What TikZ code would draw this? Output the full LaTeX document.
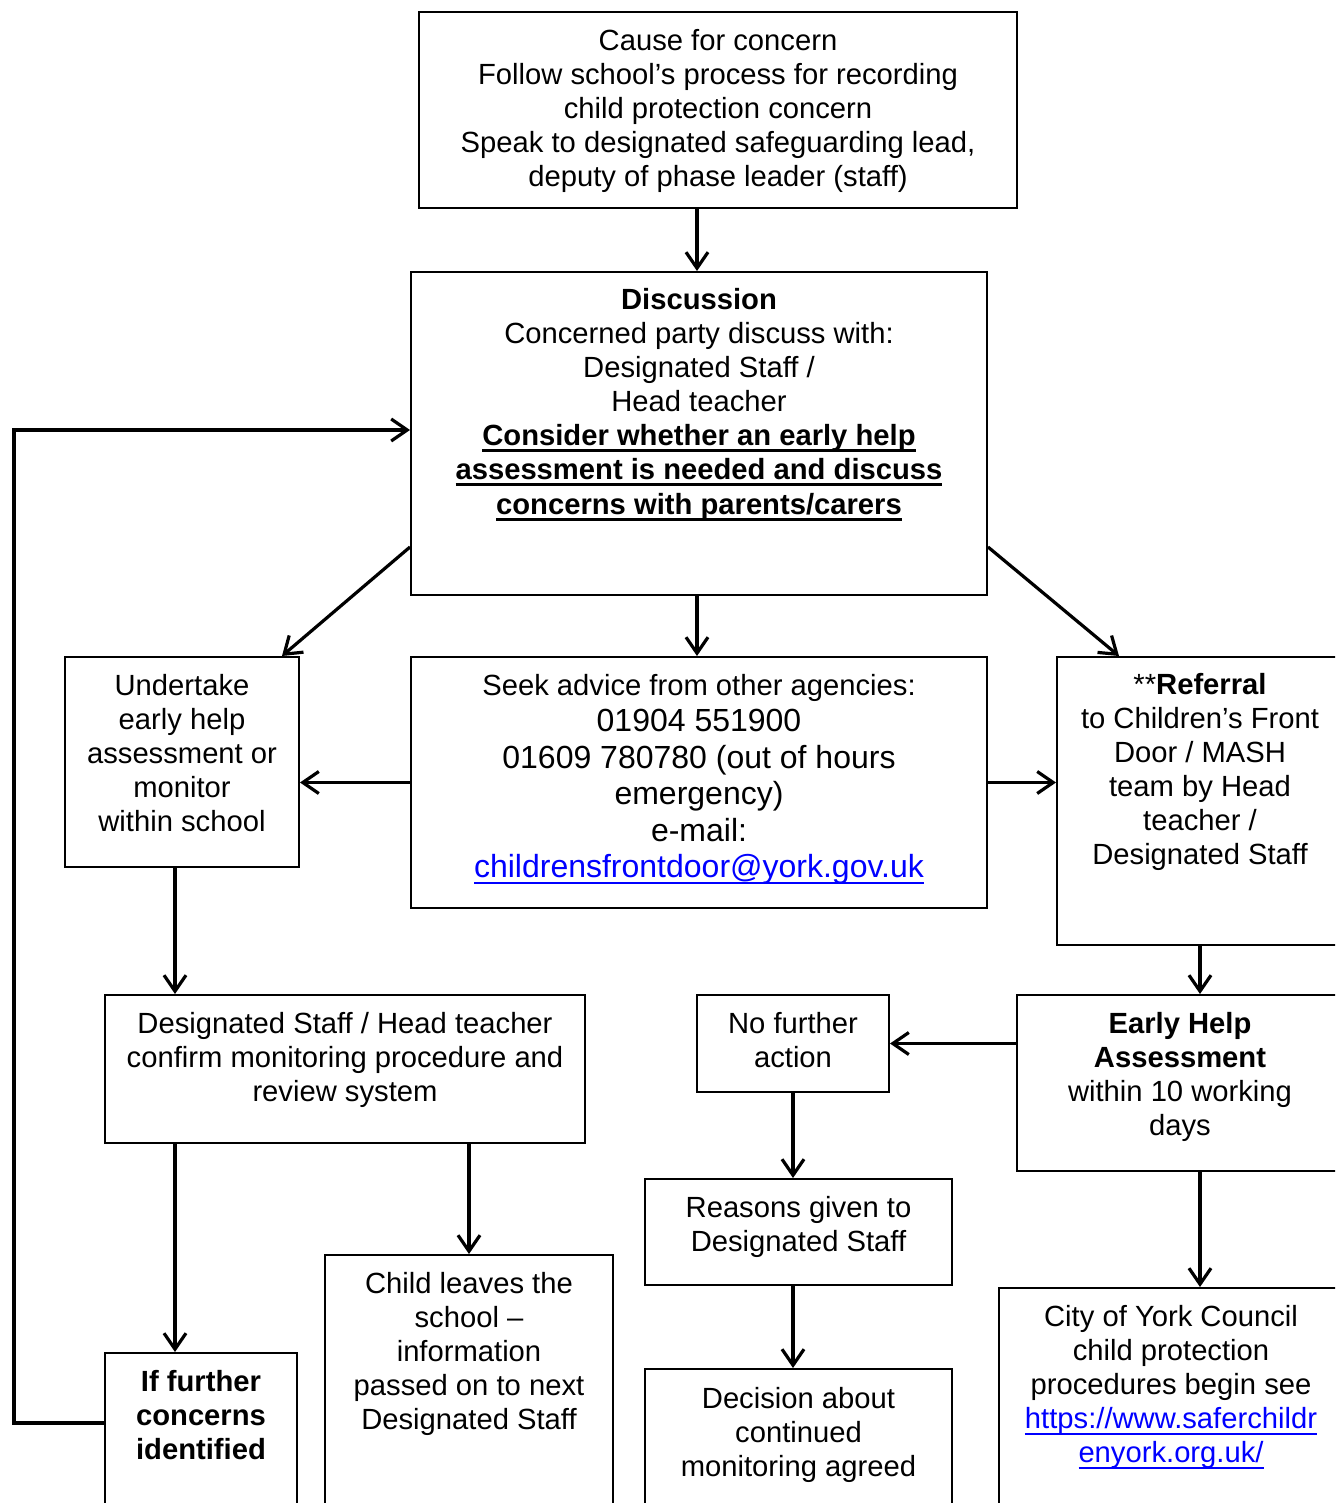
\documentclass[tikz,border=0pt]{standalone}
\usepackage{fontspec}
\setmainfont{Liberation Sans}
\usetikzlibrary{arrows.meta,fit,calc}
\newcommand\fsA{\fontsize{14.6}{17}\selectfont}
\newcommand\fsB{\fontsize{16}{18.2}\selectfont}
\definecolor{linkblue}{RGB}{0,0,255}
\newcommand\myul[2][1.2pt]{\setbox0\hbox{#2}\rlap{\raisebox{-3pt}{\rule{\wd0}{#1}}}\box0}
\newcommand\lnk[1]{\textcolor{linkblue}{\myul[0.8pt]{#1}}}
\begin{document}
\begin{tikzpicture}[x=0.5pt,y=-0.5pt,
  box/.style={draw, line width=1pt, inner sep=0pt},
  txt/.style={anchor=north, align=center, inner sep=0pt, font=\fsA},
  arr/.style={-{Straight Barb[length=8pt,width=11pt]}, line width=1.6pt}]
\useasboundingbox (0,0) rectangle (1335,1503);
\clip (0,0) rectangle (1335,1503);
% boxes
\node[box, fit={(419,12) (1017,208)}] (c1) {};
\node[box, fit={(411,272) (987,595)}] (disc) {};
\node[box, fit={(65,657) (299,867)}] (und) {};
\node[box, fit={(411,657) (987,908)}] (seek) {};
\node[box, fit={(1057,657) (1343,945)}] (ref) {};
\node[box, fit={(105,995) (585,1143)}] (dsc) {};
\node[box, fit={(697,995) (889,1092)}] (nfa) {};
\node[box, fit={(1017,995) (1343,1171)}] (eh) {};
\node[box, fit={(645,1179) (952,1285)}] (rea) {};
\node[box, fit={(325,1255) (613,1515)}] (child) {};
\node[box, fit={(105,1353) (297,1515)}] (iff) {};
\node[box, fit={(645,1369) (952,1515)}] (dec) {};
\node[box, fit={(999,1288) (1343,1515)}] (city) {};
% texts
\node[txt] (c1t) at ($(c1.north)+(0,18)$) {Cause for concern\\Follow school’s process for recording\\child protection concern\\Speak to designated safeguarding lead,\\deputy of phase leader (staff)};
\node[txt] (disct) at ($(disc.north)+(0,17)$) {\textbf{Discussion}\\Concerned party discuss with:\\Designated Staff /\\Head teacher\\\myul{\textbf{Consider whether an early help}}\\\myul{\textbf{assessment is needed and discuss}}\\[0.6pt]\myul{\textbf{concerns with parents/carers}}};
\node[txt] (undt) at ($(und.north)+(0,18)$) {Undertake\\early help\\assessment or\\monitor\\within school};
\node[txt, font=\fsB] (seekt) at ($(seek.north)+(0,18)$) {{\fsA Seek advice from other agencies:}\\01904 551900\\01609 780780 (out of hours\\emergency)\\e-mail:\\\lnk{childrensfrontdoor@york.gov.uk}};
\node[txt] (reft) at ($(ref.north)+(0,17)$) {**\textbf{Referral}\\to Children’s Front\\Door / MASH\\team by Head\\teacher /\\Designated Staff};
\node[txt] (dsct) at ($(dsc.north)+(0,18)$) {Designated Staff / Head teacher\\confirm monitoring procedure and\\review system};
\node[txt] (nfat) at ($(nfa.north)+(0,18)$) {No further\\action};
\node[txt] (eht) at ($(eh.north)+(0,18)$) {\textbf{Early Help}\\\textbf{Assessment}\\within 10 working\\days};
\node[txt] (reat) at ($(rea.north)+(0,18)$) {Reasons given to\\Designated Staff};
\node[txt] (childt) at ($(child.north)+(0,18)$) {Child leaves the\\school –\\information\\passed on to next\\Designated Staff};
\node[txt] (ifft) at ($(iff.north)+(0,18)$) {\textbf{If further}\\\textbf{concerns}\\\textbf{identified}};
\node[txt] (dect) at ($(dec.north)+(0,19)$) {Decision about\\continued\\monitoring agreed};
\node[txt] (cityt) at ($(city.north)+(0,18)$) {City of York Council\\child protection\\procedures begin see\\\lnk{https://www.saferchildr}\\\lnk{enyork.org.uk/}};
% connectors
\coordinate (colA) at (175,0);
\coordinate (colB) at (697,0);
\coordinate (lp1) at (14,1423);
\coordinate (lp2) at (14,430);
\draw[arr] (c1.south -| colB) -- (disc.north -| colB);
\draw[arr] ($(disc.south west)+(0,-49)$) -- ($(und.north east)+(-18,0)$);
\draw[arr] ($(disc.south east)+(0,-49)$) -- ($(ref.north west)+(63,0)$);
\draw[arr] (disc.south -| colB) -- (seek.north -| colB);
\draw[arr] (seek.west) -- (seek.west -| und.east);
\draw[arr] (seek.east) -- (seek.east -| ref.west);
\draw[arr] (und.south -| colA) -- (dsc.north -| colA);
\draw[arr] (dsc.south -| colA) -- (iff.north -| colA);
\draw[arr] (dsc.south -| child.north) -- (child.north);
\draw[arr] (ref.south) -- (ref.south |- eh.north);
\draw[arr] (eh.west |- nfa.east) -- (nfa.east);
\draw[arr] (nfa.south) -- (nfa.south |- rea.north);
\draw[arr] (rea.south -| nfa.south) -- (dec.north -| nfa.south);
\draw[arr] (ref.south |- eh.south) -- (ref.south |- city.north);
\draw[arr] (iff.west |- lp1) -- (lp1) -- (lp2) -- (disc.west |- lp2);
\end{tikzpicture}
\end{document}
